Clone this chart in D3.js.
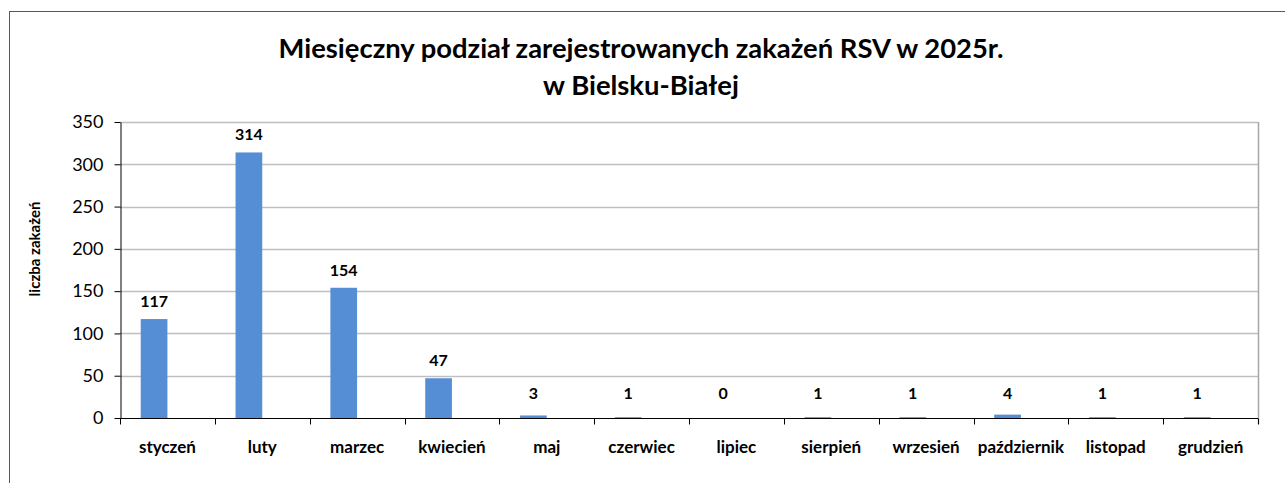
<!DOCTYPE html>
<html>
<head>
<meta charset="utf-8">
<script src="https://cdn.jsdelivr.net/npm/d3@7"></script>
<style>
  body { margin: 0; background: #fff; }
  svg { display: block; font-family: Lato, "Open Sans", sans-serif; }
  .axis .domain { stroke: #000; }
  .axis .tick line { stroke: #000; }
</style>
</head>
<body>
<svg id="chart"></svg>
<script>
// data
var months = ["styczeń", "luty", "marzec", "kwiecień", "maj", "czerwiec", "lipiec",
              "sierpień", "wrzesień", "październik", "listopad", "grudzień"];
var cases = [117, 314, 154, 47, 3, 1, 0, 1, 1, 4, 1, 1];
var yTicks = [0, 50, 100, 150, 200, 250, 300, 350];
var titleLines = ["Miesięczny podział zarejestrowanych zakażeń RSV w 2025r.", "w Bielsku-Białej"];
var yAxisLabel = "liczba zakażeń";

var W = 1285, H = 483;
var margin = { top: 122, right: 27, bottom: 65, left: 120 };
var width = W - margin.left - margin.right;
var height = H - margin.top - margin.bottom;

var svg = d3.select("#chart")
    .attr("width", W)
    .attr("height", H);

// outer chart frame (runs off the right and bottom edge)
svg.append("rect")
    .attr("x", 9.5)
    .attr("y", 11.5)
    .attr("width", W)
    .attr("height", H)
    .attr("fill", "none")
    .attr("stroke", "#595959")
    .attr("stroke-width", 1);

// title
svg.append("text")
    .attr("x", 641)
    .attr("y", 58)
    .attr("text-anchor", "middle")
    .attr("font-weight", "bold")
    .attr("font-size", 27.4)
    .attr("fill", "#000")
    .selectAll("tspan")
    .data(titleLines)
    .enter().append("tspan")
        .attr("x", 641)
        .attr("dy", function(d, i){ return i === 0 ? 0 : 37; })
        .text(function(d){ return d; });

var g = svg.append("g")
    .attr("transform", "translate(" + margin.left + "," + margin.top + ")");

// scales
var xScale = d3.scaleBand()
    .domain(months)
    .range([0, width]);

var yScale = d3.scaleLinear()
    .domain([0, 350])
    .range([height, 0]);

// grid lines
g.selectAll(".grid")
    .data(yTicks.slice(1))
    .enter().append("line")
        .attr("class", "grid")
        .attr("x1", 0)
        .attr("x2", width)
        .attr("y1", function(d){ return Math.round(yScale(d)) + 0.5; })
        .attr("y2", function(d){ return Math.round(yScale(d)) + 0.5; })
        .attr("stroke", "#bfbfbf")
        .attr("stroke-width", 1.5);

// right border of plot area
g.append("line")
    .attr("x1", width + 0.5)
    .attr("x2", width + 0.5)
    .attr("y1", 0)
    .attr("y2", height + 6)
    .attr("stroke", "#a6a6a6")
    .attr("stroke-width", 1.5);

// bars - sit left of category centre (second series slot is empty)
var barW = 26.7;
g.selectAll(".bar")
    .data(cases)
    .enter().append("rect")
        .attr("class", "bar")
        .attr("x", function(d, i){ return xScale(months[i]) + xScale.bandwidth() / 2 - barW; })
        .attr("y", function(d){ return yScale(d); })
        .attr("width", barW)
        .attr("height", function(d){ return height - yScale(d); })
        .attr("fill", "#558ed5");

// value labels
g.selectAll(".val")
    .data(cases)
    .enter().append("text")
        .attr("class", "val")
        .attr("x", function(d, i){ return xScale(months[i]) + xScale.bandwidth() / 2 - barW / 2; })
        .attr("y", function(d){ return Math.min(yScale(d) - 12, height - 19); })
        .attr("text-anchor", "middle")
        .attr("font-weight", "bold")
        .attr("font-size", 16)
        .attr("fill", "#000")
        .text(function(d){ return d; });

// y axis
var yAxis = d3.axisLeft(yScale)
    .tickValues(yTicks)
    .tickSize(6)
    .tickSizeOuter(0)
    .tickPadding(11);

var yAxisG = g.append("g")
    .attr("class", "axis")
    .attr("transform", "translate(0.5,0)")
    .call(yAxis);
yAxisG.selectAll("text")
    .attr("font-size", 18)
    .attr("font-family", "Lato, sans-serif")
    .attr("fill", "#000");

// x axis with ticks at category boundaries
var xAxis = d3.axisBottom(xScale)
    .tickSize(0)
    .tickPadding(22);

var xAxisG = g.append("g")
    .attr("class", "axis")
    .attr("transform", "translate(0," + (height + 0.5) + ")")
    .call(xAxis);
xAxisG.select(".domain").attr("d", "M0,0H" + width);
xAxisG.selectAll("text")
    .attr("font-size", 17)
    .attr("font-weight", "bold")
    .attr("font-family", "Lato, sans-serif")
    .attr("fill", "#000");

xAxisG.selectAll(".bound")
    .data(d3.range(months.length + 1))
    .enter().append("line")
        .attr("class", "bound")
        .attr("x1", function(i){ return Math.round(i * xScale.step()) + 0.5; })
        .attr("x2", function(i){ return Math.round(i * xScale.step()) + 0.5; })
        .attr("y1", 0)
        .attr("y2", 6)
        .attr("stroke", "#000");

// y axis title
svg.append("text")
    .attr("transform", "translate(40,249) rotate(-90)")
    .attr("text-anchor", "middle")
    .attr("font-weight", "bold")
    .attr("font-size", 15)
    .attr("fill", "#000")
    .text(yAxisLabel);
</script>
</body>
</html>
